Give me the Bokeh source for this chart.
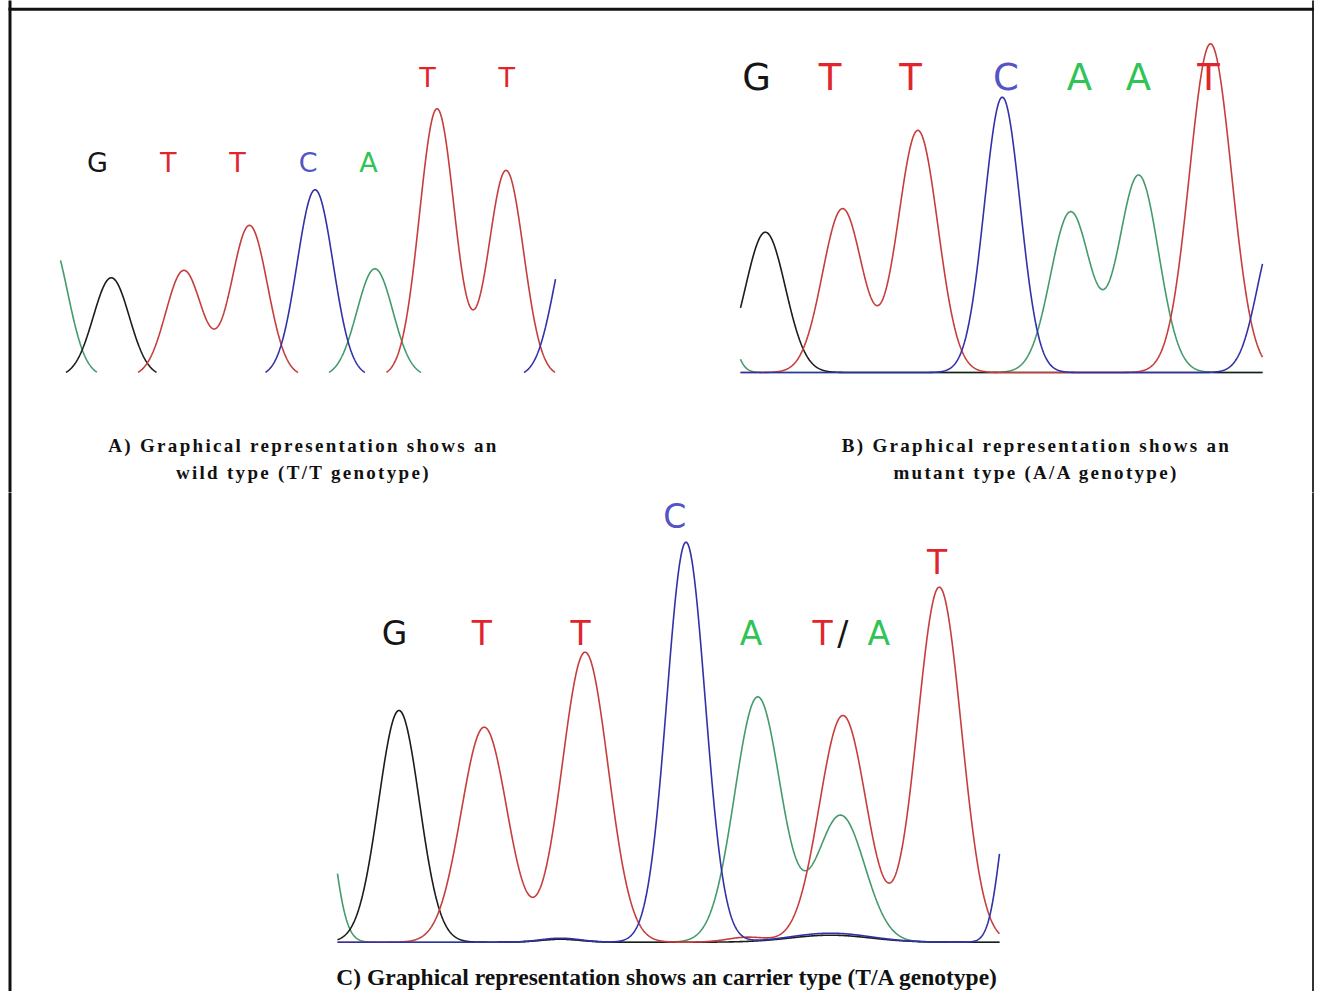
import numpy as np
from bokeh.plotting import figure
from bokeh.models import Range1d, Label, ColumnDataSource
from bokeh.layouts import column
from bokeh.core.properties import value
from bokeh.embed import file_html
from bokeh.resources import INLINE

# ---------------- data ----------------
# Panel A : wild type  (positions in scan units, heights in signal units)
A_black_pos, A_black_h, A_black_w = [50.8], [98.7], [18]
A_red_pos, A_red_h, A_red_w = [123.3, 189.0, 376.5, 445.6], [106, 151, 267.7, 206], [18, 18, 17.5, 17.5]
A_blue_pos, A_blue_h, A_blue_w = [254.6, 512.0], [186.7, 152], [18, 18]
A_green_pos, A_green_h, A_green_w = [-11.0, 314.4], [140, 107.7], [18, 18]
A_bases = ["G", "T", "T", "C", "A", "T", "T"]
A_base_x = [37, 107.8, 176.9, 247.7, 308, 366.9, 446.3]
A_base_y = [214.5, 214.5, 214.5, 214.5, 214.5, 299.5, 299.5]

# Panel B : mutant type
B_black_pos, B_black_h, B_black_w = [24.9], [140.3], [20]
B_red_pos, B_red_h, B_red_w = [102.0, 177.4, 470.0], [163.7, 242, 328.7], [20, 20, 21]
B_blue_pos, B_blue_h, B_blue_w = [261.8, 535.0], [275.3, 141], [18, 18]
B_green_pos, B_green_h, B_green_w = [-25.0, 330.0, 398.2], [116, 160.3, 197], [12, 20, 20]
B_bases = ["G", "T", "T", "C", "A", "A", "T"]
B_base_x = [16, 89.5, 170, 265.4, 339, 398, 468]
B_base_y = [295.3, 295.3, 295.3, 295.3, 295.3, 295.3, 295.3]

# Panel C : carrier type
C_black_pos, C_black_h, C_black_w = [61.5, 223.0, 493.0], [231.7, 3, 7], [20.4, 20, 40]
C_red_pos, C_red_h, C_red_w = [146.7, 247.6, 410.0, 505.4, 601.8], [215, 290, 5, 226.7, 355], [23, 23, 20, 23.5, 22]
C_blue_pos, C_blue_h, C_blue_w = [223.0, 348.5, 493.0, 675.0], [4, 400, 9, 159], [20, 19.2, 40, 12]
C_green_pos, C_green_h, C_green_w = [-20.0, 223.0, 420.2, 503.2], [190, 3, 245, 126.7], [14, 20, 23, 24]
C_bases = ["G", "T", "T", "C", "A", "T", "/", "A", "T"]
C_base_x = [57, 144.4, 243, 337.3, 413.5, 485, 505.4, 541.3, 599.6]
C_base_y = [308.7, 308.7, 308.7, 425.7, 308.7, 308.7, 308.7, 308.7, 380]

CAPTION_A = ["A) Graphical representation shows an", "wild type (T/T genotype)"]
CAPTION_B = ["B) Graphical representation shows an", "mutant type (A/A genotype)"]
CAPTION_C = "C) Graphical representation shows an carrier type (T/A genotype)"

# ---------------- styles ----------------
TRACE = {"black": "#1c1c1c", "red": "#c63e3c", "blue": "#3232a8", "green": "#459a6c"}
BASE_COL = {"G": "#151515", "T": "#e0262c", "C": "#5454c4", "A": "#30c456", "/": "#151515"}

PAGE_W = 1314
PAGE_H = 991
SPLIT = 492
LS = 2.3  # caption letter spacing (px)


def trace(pos, h, w, xs):
    y = np.zeros_like(xs)
    for c, a, s in zip(pos, h, w):
        y += a * np.exp(-((xs - c) ** 2) / (2.0 * s * s))
    return y


def add_panel(p, name, left, baseline, top_page, bottom_page, extent, channels,
              bases, bx, by, font_size, clip=None):
    p.extra_x_ranges[name] = Range1d(0 - left, PAGE_W - left)
    p.extra_y_ranges[name] = Range1d(baseline - bottom_page, baseline - top_page)
    xs = np.arange(0, extent + 0.01, 0.5)
    for col, (pos, h, w) in channels:
        ys = trace(pos, h, w, xs)
        if clip is not None:
            ys = np.where(ys >= clip, ys, np.nan)
        p.line(xs, ys, line_color=TRACE[col], line_width=1.6,
               x_range_name=name, y_range_name=name)
    src = ColumnDataSource(dict(x=bx, y=by, t=bases, c=[BASE_COL[b] for b in bases]))
    p.text(x="x", y="y", text="t", text_color="c", source=src,
           x_range_name=name, y_range_name=name,
           text_align="center", text_baseline="middle",
           text_font=value("DejaVu Sans"), text_font_size=value(font_size))


def frame(p, y0, y1, top=False):
    # outer box of the figure (left, right and, for the upper part, top edge)
    p.segment(x0=[9.5, PAGE_W - 1.5], y0=[y0 - 20, y0 - 20], x1=[9.5, PAGE_W - 1.5], y1=[y1 + 20, y1 + 20],
              line_color=["#111111", "#333333"], line_width=[3, 2])
    if top:
        p.segment(x0=[8], y0=[8.8], x1=[PAGE_W + 20], y1=[8.8], line_color="#111111", line_width=3)


def base_fig(y0, y1, styles=None):
    kw = {}
    if styles:
        kw["styles"] = styles
    p = figure(width=PAGE_W, height=y1 - y0, x_range=Range1d(0, PAGE_W), y_range=Range1d(y1, y0),
               output_backend="svg", toolbar_location=None, min_border=0,
               background_fill_color=None, border_fill_color=None, **kw)
    p.axis.visible = False
    p.grid.visible = False
    p.outline_line_color = None
    return p


# ---------------- top: panels A and B ----------------
top = base_fig(0, SPLIT, styles={"letter-spacing": f"{LS}px"})
frame(top, 0, SPLIT, top=True)
add_panel(top, "A", 60, 376, 0, SPLIT, 495,
          [("green", (A_green_pos, A_green_h, A_green_w)),
           ("black", (A_black_pos, A_black_h, A_black_w)),
           ("red", (A_red_pos, A_red_h, A_red_w)),
           ("blue", (A_blue_pos, A_blue_h, A_blue_w))],
          A_bases, A_base_x, A_base_y, "27px", clip=4)
add_panel(top, "B", 740, 372, 0, SPLIT, 522,
          [("green", (B_green_pos, B_green_h, B_green_w)),
           ("black", (B_black_pos, B_black_h, B_black_w)),
           ("red", (B_red_pos, B_red_h, B_red_w)),
           ("blue", (B_blue_pos, B_blue_h, B_blue_w))],
          B_bases, B_base_x, B_base_y, "37px")

for cx, lines in [(303, CAPTION_A), (1036, CAPTION_B)]:
    for i, t in enumerate(lines):
        top.add_layout(Label(x=cx, y=445 + 27 * i, text=t, text_align="center",
                             x_offset=-len(t) * LS / 2.0,
                             text_baseline="middle", text_font="Liberation Serif",
                             text_font_style="bold", text_font_size="19px",
                             text_color="#111111"))

# ---------------- bottom: panel C ----------------
bot = base_fig(SPLIT, PAGE_H)
frame(bot, SPLIT, PAGE_H)
add_panel(bot, "C", 337, 941.7, SPLIT, PAGE_H, 662.4,
          [("green", (C_green_pos, C_green_h, C_green_w)),
           ("black", (C_black_pos, C_black_h, C_black_w)),
           ("red", (C_red_pos, C_red_h, C_red_w)),
           ("blue", (C_blue_pos, C_blue_h, C_blue_w))],
          C_bases, C_base_x, C_base_y, "33px")
bot.add_layout(Label(x=667, y=976, text=CAPTION_C, text_align="center",
                     text_baseline="middle", text_font="Liberation Serif",
                     text_font_style="bold", text_font_size="23.5px",
                     text_color="#111111"))

layout = column(top, bot, spacing=0)
open("out.html", "w").write(file_html(layout, INLINE))
